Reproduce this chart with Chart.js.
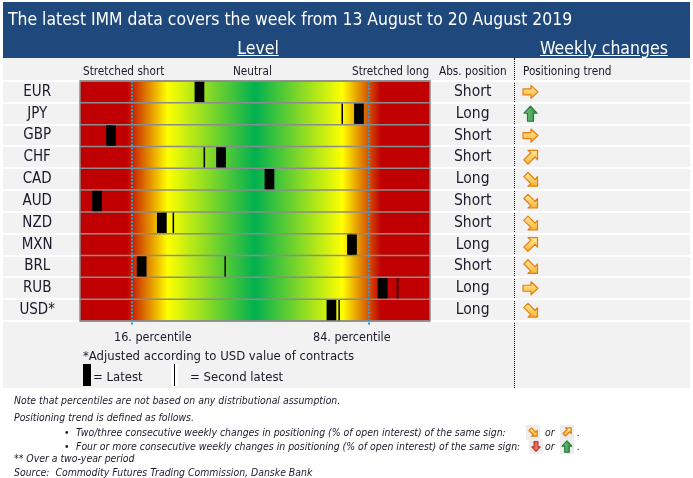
<!DOCTYPE html>
<html>
<head>
<meta charset="utf-8">
<script src="https://cdn.jsdelivr.net/npm/chart.js@4.4.1/dist/chart.umd.min.js"></script>
<style>
  body { margin: 0; width: 693px; height: 478px; background: #fff; position: relative; overflow: hidden;
         font-family: "Liberation Sans Narrow", "DejaVu Sans Condensed", sans-serif; color: #1a1a2a; }
  .abs { position: absolute; white-space: nowrap; }
  #header { left: 3px; top: 2px; width: 687px; height: 56px; background: #1F497D; }
  #panel { left: 3px; top: 58px; width: 687px; height: 330px; background: #F2F2F2; }
  #sep { left: 514px; top: 58px; height: 330px; border-left: 1px dotted #000; }
  #chart { position: absolute; left: 0; top: 0; }
  .title { left: 8px; top: 8px; font-size: 18.5px; line-height: 22px; color: #fff;
           transform: scaleX(0.94); transform-origin: left center; }
  .sub { top: 38px; font-size: 17.5px; line-height: 20px; color: #fff; text-decoration: underline; }
  .hd { top: 65px; font-size: 11.7px; line-height: 12px; }
  .pct { top: 330px; font-size: 12.5px; line-height: 14px; }
  .note { font-style: italic; font-size: 10.4px; line-height: 12px; }
</style>
</head>
<body>
<div id="header" class="abs"></div>
<div id="panel" class="abs"></div>
<div id="sep" class="abs"></div>
<canvas id="chart" width="693" height="478"></canvas>

<div class="abs title">The latest IMM data covers the week from 13 August to 20 August 2019</div>
<div class="abs sub" style="left:208px;width:100px;text-align:center">Level</div>
<div class="abs sub" style="left:540px">Weekly changes</div>

<div class="abs hd" style="left:83px">Stretched short</div>
<div class="abs hd" style="left:233px">Neutral</div>
<div class="abs hd" style="left:352px">Stretched long</div>
<div class="abs hd" style="left:439px">Abs. position</div>
<div class="abs hd" style="left:523px">Positioning trend</div>

<div class="abs pct" style="left:114px">16. percentile</div>
<div class="abs pct" style="left:313px">84. percentile</div>
<div class="abs" style="left:83px;top:349px;font-size:13px;line-height:14px">*Adjusted according to USD value of contracts</div>
<div class="abs" style="left:83px;top:364px;width:8px;height:22px;background:#000"></div>
<div class="abs" style="left:93px;top:370px;font-size:13px;line-height:14px">= Latest</div>
<div class="abs" style="left:171px;top:364px;width:7px;height:22px;background:#fff"></div>
<div class="abs" style="left:174px;top:364px;width:1px;height:22px;background:#000"></div>
<div class="abs" style="left:190px;top:370px;font-size:13px;line-height:14px">= Second latest</div>

<div class="abs note" style="left:14px;top:394px">Note that percentiles are not based on any distributional assumption.</div>
<div class="abs note" style="left:14px;top:411px">Positioning trend is defined as follows.</div>
<div class="abs note" style="left:64px;top:426px">•</div>
<div class="abs note" style="left:76px;top:426px">Two/three consecutive weekly changes in positioning (% of open interest) of the same sign:</div>
<div class="abs note" style="left:545px;top:426px">or</div>
<div class="abs note" style="left:577px;top:426px">.</div>
<div class="abs note" style="left:64px;top:440px">•</div>
<div class="abs note" style="left:76px;top:440px">Four or more consecutive weekly changes in positioning (% of open interest) of the same sign:</div>
<div class="abs note" style="left:545px;top:440px">or</div>
<div class="abs note" style="left:577px;top:440px">.</div>
<div class="abs note" style="left:14px;top:452px">** Over a two-year period</div>
<div class="abs note" style="left:14px;top:466px">Source:&nbsp; Commodity Futures Trading Commission, Danske Bank</div>

<script>
const currencies = ["EUR", "JPY", "GBP", "CHF", "CAD", "AUD", "NZD", "MXN", "BRL", "RUB", "USD*"];
// percentile (0-100) of net positioning over two years
const latest = [35.3, 81.1, 9.9, 41.5, 55.4, 5.9, 24.5, 79.1, 18.7, 87.9, 73.2];
const secondLatest = [35.0, 76.3, 9.6, 36.7, 55.2, 5.6, 27.8, 78.8, 42.7, 92.2, 75.4];
const absPosition = ["Short", "Long", "Short", "Short", "Long", "Short", "Short", "Long", "Short", "Long", "Long"];
const trend = ["right", "up", "right", "upRight", "downRight", "downRight", "downRight", "upRight", "downRight", "right", "downRight"];
const stretchedLimits = [16, 84];

const LABEL_FONT = "'Liberation Sans Narrow', 'DejaVu Sans Condensed', sans-serif";

// arrow outlines in a 15x15 box centred on 0,0
const STRAIGHT = [[-7.5, -3], [0.5, -3], [0.5, -6.5], [7.5, 0], [0.5, 6.5], [0.5, 3], [-7.5, 3]];
const CORNER = [[7, -7], [-2.5, -7], [0.4, -4.6], [-6.7, 2.5], [-2.5, 6.7], [4.6, -0.4], [7, 2.5]];

function drawArrow(ctx, cx, cy, kind, s) {
  let pts = STRAIGHT, angle = 0, flip = 1;
  if (kind === "up") angle = -Math.PI / 2;
  if (kind === "down") angle = Math.PI / 2;
  if (kind === "upRight") pts = CORNER;
  if (kind === "downRight") { pts = CORNER; flip = -1; }
  let fill = ["#FFEB9C", "#F7B437"], stroke = "#E3800F";
  if (kind === "up") { fill = ["#7CCB86", "#2E8B45"]; stroke = "#2A7A3A"; }
  if (kind === "down") { fill = ["#F29A8E", "#D8493C"]; stroke = "#B83A2E"; }
  ctx.save();
  ctx.translate(cx, cy);
  ctx.rotate(angle);
  ctx.scale(s, s * flip);
  ctx.beginPath();
  pts.forEach(([x, y], i) => i ? ctx.lineTo(x, y) : ctx.moveTo(x, y));
  ctx.closePath();
  const g = ctx.createLinearGradient(0, -7 * flip, 0, 7 * flip);
  g.addColorStop(0, fill[0]);
  g.addColorStop(1, fill[1]);
  ctx.fillStyle = g;
  ctx.fill();
  ctx.lineWidth = 1.2 / s;
  ctx.lineJoin = "round";
  ctx.strokeStyle = stroke;
  ctx.stroke();
  ctx.restore();
}

const boardPlugin = {
  id: "board",
  beforeDraw(chart) {
    const { ctx, chartArea: a } = chart;
    const rowH = (a.bottom - a.top) / currencies.length;
    ctx.save();
    ctx.strokeStyle = "#ffffff";
    ctx.lineWidth = 2;
    for (let k = 0; k <= currencies.length; k++) {
      const y = Math.round(a.top + k * rowH);
      ctx.beginPath();
      ctx.moveTo(3, y);
      ctx.lineTo(690, y);
      ctx.stroke();
    }
    ctx.restore();
  },
  beforeDatasetsDraw(chart) {
    const { ctx, chartArea: a } = chart;
    const w = a.right - a.left;
    const g = ctx.createLinearGradient(a.left, 0, a.right, 0);
    g.addColorStop(0, "#C00000");
    g.addColorStop(0.134, "#C00000");
    g.addColorStop(0.25, "#FFFF00");
    g.addColorStop(0.5, "#00B050");
    g.addColorStop(0.75, "#FFFF00");
    g.addColorStop(0.86, "#C00000");
    g.addColorStop(1, "#C00000");
    ctx.save();
    ctx.fillStyle = g;
    ctx.fillRect(a.left, a.top, w, a.bottom - a.top);
    ctx.strokeStyle = "#8C8C8C";
    ctx.lineWidth = 1.5;
    const rowH = (a.bottom - a.top) / currencies.length;
    for (let k = 0; k <= currencies.length; k++) {
      const y = a.top + k * rowH;
      ctx.beginPath();
      ctx.moveTo(a.left, y);
      ctx.lineTo(a.right, y);
      ctx.stroke();
    }
    ctx.strokeRect(a.left, a.top, w, a.bottom - a.top);
    ctx.restore();
  },
  afterDatasetsDraw(chart) {
    const { ctx, chartArea: a, scales } = chart;
    ctx.save();
    ctx.strokeStyle = "#2E9BD6";
    ctx.lineWidth = 2;
    ctx.setLineDash([2, 1.5]);
    stretchedLimits.forEach(p => {
      const x = Math.round(scales.x.getPixelForValue(p));
      ctx.beginPath();
      ctx.moveTo(x, a.top);
      ctx.lineTo(x, a.bottom + 4);
      ctx.stroke();
    });
    ctx.restore();

    trend.forEach((t, i) => {
      drawArrow(ctx, 530.5, scales.y.getPixelForValue(i), t, 1);
    });

    // small icons in the footnote
    ctx.save();
    ctx.fillStyle = "#EDEDED";
    [[526, 425], [560, 425], [529, 439], [560, 439]].forEach(([x, y]) => ctx.fillRect(x, y, 14, 15));
    ctx.restore();
    drawArrow(ctx, 533, 432, "downRight", 0.6);
    drawArrow(ctx, 567, 432, "upRight", 0.6);
    drawArrow(ctx, 536, 446.5, "down", 0.65);
    drawArrow(ctx, 567, 446.5, "up", 0.75);
  }
};

new Chart(document.getElementById("chart").getContext("2d"), {
  type: "bar",
  data: {
    labels: currencies,
    datasets: [
      {
        label: "Latest",
        data: latest.map(v => [v - 1.4, v + 1.4]),
        backgroundColor: "#000000",
        grouped: false,
        barPercentage: 0.93,
        categoryPercentage: 1
      },
      {
        label: "Second latest",
        data: secondLatest.map(v => [v - 0.22, v + 0.22]),
        backgroundColor: "#000000",
        grouped: false,
        barPercentage: 0.93,
        categoryPercentage: 1
      }
    ]
  },
  options: {
    responsive: false,
    animation: false,
    indexAxis: "y",
    layout: { padding: { top: 81, bottom: 157, left: 0, right: 179 } },
    plugins: {
      legend: { display: false },
      tooltip: { enabled: false }
    },
    scales: {
      x: {
        display: false,
        min: 1,
        max: 101.5
      },
      y: {
        position: "left",
        grid: { display: false, drawTicks: false },
        border: { display: false },
        afterFit(scale) { scale.width = 80; },
        ticks: {
          autoSkip: false,
          crossAlign: "center",
          padding: 25,
          color: "#1a1a2a",
          font: { family: LABEL_FONT, size: 15 }
        }
      },
      y2: {
        type: "category",
        position: "right",
        labels: absPosition,
        min: 0,
        max: absPosition.length - 1,
        offset: true,
        grid: { display: false, drawTicks: false },
        border: { display: false },
        afterFit(scale) { scale.width = 84; },
        ticks: {
          autoSkip: false,
          crossAlign: "center",
          padding: 24,
          color: "#1a1a2a",
          font: { family: LABEL_FONT, size: 15.5 }
        }
      }
    }
  },
  plugins: [boardPlugin]
});
</script>
</body>
</html>
